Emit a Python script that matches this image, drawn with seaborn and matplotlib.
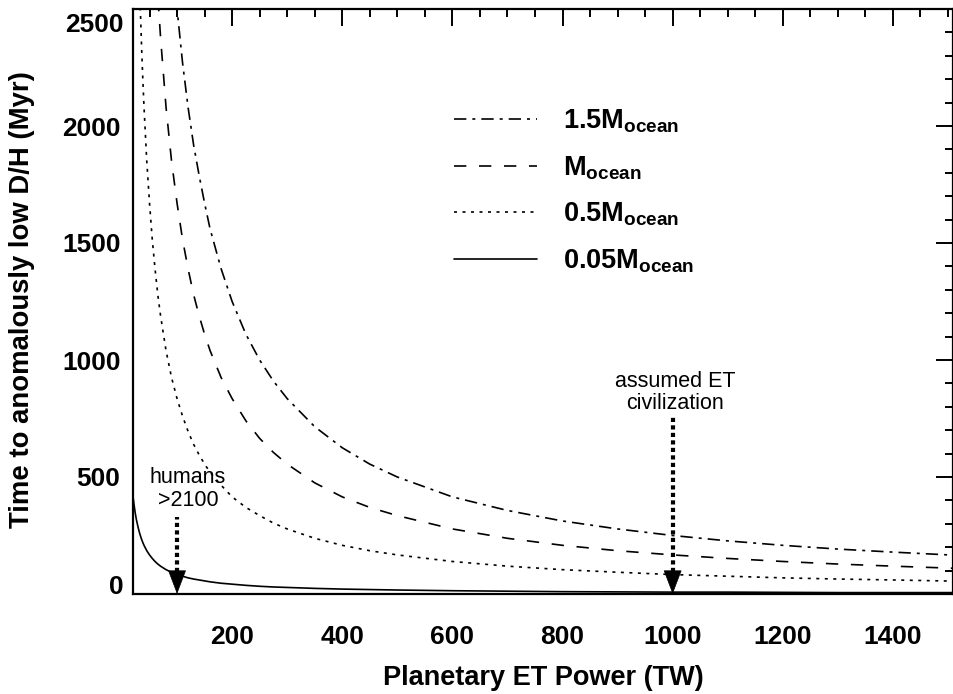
import numpy as np
import pandas as pd
import matplotlib
matplotlib.use("Agg")
import matplotlib.pyplot as plt
from matplotlib.lines import Line2D
import seaborn as sns

# values (NaN = above the plotted range)
nan = np.nan
power_tw = [20, 22, 24, 26, 28, 30, 32, 34, 36, 38, 40, 45, 50, 55, 60, 65, 70, 80, 90, 100,
            110, 120, 130, 140, 150, 160, 180, 200, 225, 250, 275, 300, 350, 400, 450, 500,
            600, 700, 800, 900, 1000, 1100, 1200, 1300, 1400, 1510]
t_1p5_ocean = [nan] * 18 + [2780, 2500, 2270, 2080, 1920, 1790, 1670, 1560, 1390, 1250, 1110, 1000,
                            910, 835, 715, 625, 555, 500, 415, 357, 312, 278, 250, 227, 208, 192, 179, 166]
t_1_ocean = [nan] * 14 + [2780, 2560, 2380, 2080, 1850, 1670, 1515, 1390, 1280, 1190, 1110, 1040,
                          925, 835, 740, 665, 605, 555, 475, 415, 370, 335, 278, 238, 208, 185, 167,
                          152, 139, 128, 119, 110]
t_0p5_ocean = [nan] * 5 + [2780, 2600, 2450, 2310, 2190, 2080, 1850, 1670, 1515, 1390, 1280, 1190,
                           1040, 925, 835, 760, 695, 640, 595, 555, 520, 465, 415, 370, 335, 303, 278,
                           238, 208, 185, 167, 139, 119, 104, 93, 83, 76, 69, 64, 60, 55]
t_0p05_ocean = [417, 380, 347, 320, 298, 278, 260, 245, 231, 219, 208, 185, 167, 152, 139, 128, 119,
                104, 93, 83, 76, 69, 64, 60, 56, 52, 46, 42, 37, 33, 30, 28, 24, 21, 19, 17, 14, 12,
                10, 9, 8, 8, 7, 6, 6, 6]

series_names = ["1.5M", "M", "0.5M", "0.05M"]
series_labels = [r"$\mathbf{1.5M_{ocean}}$", r"$\mathbf{M_{ocean}}$",
                 r"$\mathbf{0.5M_{ocean}}$", r"$\mathbf{0.05M_{ocean}}$"]
humans_power = 100
et_power = 1000

sns.set_theme(style="white")
plt.rcParams["font.family"] = ["Liberation Sans", "DejaVu Sans"]
plt.rcParams["mathtext.fontset"] = "custom"
plt.rcParams["mathtext.rm"] = "Liberation Sans"
plt.rcParams["mathtext.bf"] = "Liberation Sans:bold"
for key in ["text.color", "axes.labelcolor", "xtick.color", "ytick.color", "axes.edgecolor"]:
    plt.rcParams[key] = "black"

df = pd.DataFrame({
    "power": power_tw * 4,
    "time": t_1p5_ocean + t_1_ocean + t_0p5_ocean + t_0p05_ocean,
    "mass": sum([[n] * len(power_tw) for n in series_names], []),
}).dropna()

lw = 1.2
dash_styles = {"1.5M": (7.4, 3.6, 1.8, 3.6), "M": (7.4, 7.6), "0.5M": (1.8, 3.3), "0.05M": ""}

fig = plt.figure(figsize=(9.54, 6.94), dpi=100)
ax = fig.add_axes([133 / 954, 1 - 594 / 694, (953.5 - 133) / 954, (594 - 9) / 694])

sns.lineplot(data=df, x="power", y="time", style="mass", dashes=dash_styles,
             color="black", linewidth=lw, estimator=None, sort=False, legend=False, ax=ax)

ax.set_xlim(20, 1510)
ax.set_ylim(0, 2500)
ax.set_xticks(np.arange(200, 1401, 200))
ax.set_xticks(np.arange(50, 1501, 50), minor=True)
ax.set_yticks(np.arange(0, 2501, 500))
ax.set_yticks(np.arange(0, 2501, 100), minor=True)
ytick_vals = np.arange(0, 2501, 500)
ax.set_yticklabels(["" if v in (0, 2500) else str(v) for v in ytick_vals])
ax.tick_params(which="both", direction="in", top=True, right=True, width=1.4)
ax.tick_params(which="major", length=12)
ax.tick_params(which="minor", length=6)
ax.tick_params(axis="x", which="major", pad=22, labelsize=19)
ax.tick_params(axis="y", which="major", pad=9, labelsize=19)
for lab in ax.get_xticklabels() + ax.get_yticklabels():
    lab.set_fontweight("bold")
for sp in ax.spines.values():
    sp.set_linewidth(1.6)

# end labels sit inside the axis span, as in the original
ytrans = ax.get_yaxis_transform()
ax.text(-9 / 820.5, 0, "0", transform=ytrans, ha="right", va="baseline", fontsize=19,
        fontweight="bold")
ax.text(-9 / 820.5, 2430, "2500", transform=ytrans, ha="right", va="center", fontsize=19,
        fontweight="bold")

ax.set_xlabel("Planetary ET Power (TW)", fontsize=19.5, fontweight="bold")
ax.set_ylabel("Time to anomalously low D/H (Myr)", fontsize=19.8, fontweight="bold")
ax.xaxis.label.set_va("center")
ax.yaxis.label.set_va("center")
ax.xaxis.set_label_coords(0.5, (594 - 678) / 585)
ax.yaxis.set_label_coords((22 - 133) / 820.5, 0.5 + 2 / 585)

handles = [Line2D([], [], color="black", linewidth=lw, dashes=dash_styles[n])
           for n in series_names[:3]]
handles.append(Line2D([], [], color="black", linewidth=lw, linestyle="-"))
ax.legend(handles, series_labels, loc="upper left", bbox_to_anchor=(0.362, 0.873),
          frameon=False, fontsize=19.5, handlelength=3.05, handletextpad=0.95,
          labelspacing=0.7)

# arrows: thick dotted shaft with a solid head
for p, top in [(humans_power, 331), (et_power, 756)]:
    ax.plot([p, p], [95, top], color="black", linewidth=3, linestyle=(0, (1, 0.8)))
    ax.annotate("", xy=(p, 0), xytext=(p, 95),
                arrowprops=dict(arrowstyle="-|>,head_length=1.0,head_width=0.38",
                                color="black", lw=0.5, shrinkA=0, shrinkB=0, mutation_scale=16))

ax.text(120, 449, "humans\n>2100", ha="center", va="center", fontsize=15.5, linespacing=1.1)
ax.text(1005, 861, "assumed ET\ncivilization", ha="center", va="center", fontsize=15.5,
        linespacing=1.1)

fig.savefig("out.png", dpi=100)
